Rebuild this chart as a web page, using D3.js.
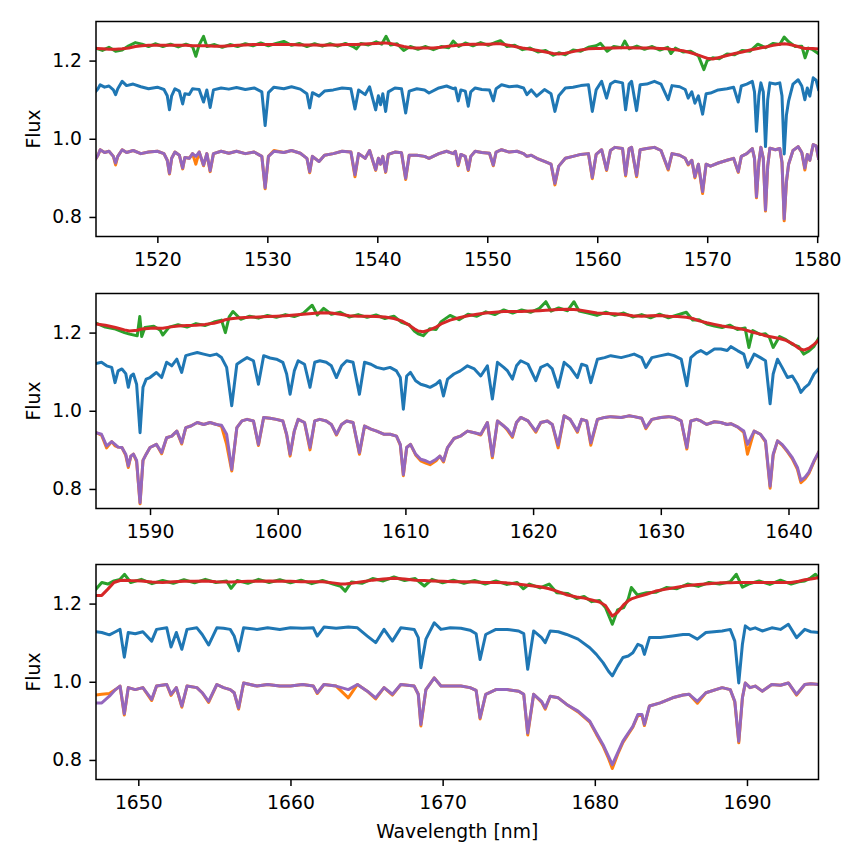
<!DOCTYPE html>
<html>
<head>
<meta charset="utf-8">
<script src="https://cdn.jsdelivr.net/npm/d3@7"></script>
<style>
  html, body { margin: 0; padding: 0; background: #fff; }
  text { font-family: "DejaVu Sans", sans-serif; }
</style>
</head>
<body>
<div id="chart"></div>
<script>
// ---- panel 1 : 1514 - 1580 nm ----
const p1Wave = [1514.42,1514.6,1514.8,1515.2,1515.6,1516.0,1516.2,1516.4,1516.8,1517.2,
  1517.8,1518.5,1519.2,1520.0,1520.6,1520.9,1521.1,1521.3,1521.6,1522.0,
  1522.3,1522.5,1522.9,1523.2,1523.5,1523.8,1524.2,1524.5,1524.8,1525.1,
  1525.8,1526.5,1527.2,1528.0,1528.8,1529.5,1529.8,1530.1,1530.6,1531.5,
  1532.2,1533.0,1533.6,1533.85,1534.1,1534.7,1535.2,1536.0,1536.8,1537.6,
  1537.97,1538.3,1538.9,1539.3,1539.85,1540.1,1540.3,1540.5,1540.76,1541.0,
  1541.6,1542.2,1542.58,1542.9,1543.6,1544.3,1544.7,1545.6,1546.3,1546.9,
  1547.1,1547.36,1547.6,1548.0,1548.27,1548.5,1548.9,1549.5,1550.2,1550.55,
  1550.8,1551.3,1552.0,1552.7,1553.3,1553.6,1554.0,1554.5,1555.2,1555.8,
  1556.15,1556.5,1557.1,1557.8,1558.5,1559.2,1559.55,1559.9,1560.4,1560.85,
  1561.2,1561.6,1562.3,1562.58,1562.9,1563.12,1563.58,1563.9,1564.5,1565.2,
  1565.8,1566.45,1566.8,1567.5,1568.0,1568.27,1568.6,1568.88,1569.2,1569.58,
  1569.9,1570.3,1571.0,1571.8,1572.4,1572.82,1573.1,1573.6,1574.1,1574.3,
  1574.48,1574.7,1574.88,1575.1,1575.3,1575.5,1575.7,1576.2,1576.6,1576.8,
  1577.0,1577.2,1577.4,1577.8,1578.27,1578.6,1578.88,1579.1,1579.33,1579.64,
  1579.9,1580.12];
const p1Blue = [1.122,1.128,1.138,1.132,1.135,1.125,1.113,1.128,1.147,1.136,
  1.140,1.133,1.128,1.132,1.126,1.110,1.074,1.110,1.128,1.122,
  1.089,1.115,1.113,1.128,1.127,1.126,1.094,1.125,1.080,1.125,
  1.130,1.127,1.131,1.126,1.130,1.120,1.034,1.118,1.132,1.128,
  1.133,1.127,1.115,1.079,1.118,1.109,1.122,1.125,1.130,1.128,
  1.076,1.125,1.113,1.133,1.074,1.110,1.087,1.115,1.070,1.120,
  1.130,1.128,1.066,1.122,1.128,1.125,1.117,1.130,1.135,1.128,
  1.130,1.097,1.125,1.122,1.083,1.120,1.130,1.126,1.125,1.097,
  1.128,1.138,1.133,1.135,1.130,1.113,1.125,1.109,1.126,1.115,
  1.070,1.110,1.130,1.132,1.136,1.138,1.070,1.125,1.147,1.104,
  1.140,1.147,1.143,1.074,1.140,1.147,1.072,1.138,1.140,1.147,
  1.140,1.100,1.136,1.133,1.126,1.104,1.120,1.091,1.110,1.063,
  1.115,1.117,1.125,1.128,1.132,1.094,1.135,1.140,1.147,1.120,
  1.019,1.110,1.143,1.120,0.980,1.100,1.143,1.140,1.143,1.110,
  0.961,1.060,1.096,1.140,1.151,1.135,1.100,1.130,1.109,1.156,
  1.150,1.126];
const p1Orange = [0.950,0.958,0.972,0.965,0.968,0.955,0.933,0.955,0.972,0.965,
  0.970,0.962,0.966,0.968,0.962,0.945,0.910,0.950,0.966,0.958,
  0.923,0.952,0.950,0.962,0.935,0.966,0.931,0.962,0.916,0.962,
  0.968,0.963,0.968,0.962,0.966,0.955,0.872,0.955,0.970,0.965,
  0.970,0.963,0.950,0.913,0.955,0.942,0.958,0.962,0.968,0.966,
  0.903,0.962,0.950,0.970,0.919,0.950,0.935,0.955,0.914,0.960,
  0.966,0.964,0.896,0.958,0.958,0.955,0.950,0.962,0.968,0.962,
  0.968,0.931,0.960,0.955,0.919,0.955,0.968,0.965,0.963,0.931,
  0.966,0.972,0.966,0.968,0.962,0.955,0.958,0.950,0.942,0.935,
  0.882,0.930,0.950,0.955,0.960,0.962,0.898,0.960,0.972,0.919,
  0.970,0.978,0.975,0.905,0.975,0.978,0.903,0.972,0.975,0.978,
  0.970,0.920,0.962,0.958,0.950,0.933,0.945,0.900,0.935,0.860,
  0.935,0.930,0.938,0.945,0.950,0.914,0.955,0.962,0.975,0.950,
  0.849,0.940,0.978,0.950,0.815,0.930,0.976,0.972,0.975,0.940,
  0.790,0.888,0.935,0.970,0.980,0.965,0.920,0.960,0.945,0.985,
  0.982,0.950];
const p1Purple = [0.950,0.958,0.972,0.965,0.968,0.955,0.938,0.955,0.972,0.965,
  0.970,0.962,0.966,0.968,0.962,0.945,0.912,0.950,0.966,0.958,
  0.925,0.952,0.950,0.962,0.955,0.966,0.933,0.962,0.918,0.962,
  0.968,0.963,0.968,0.962,0.966,0.955,0.875,0.955,0.968,0.965,
  0.970,0.963,0.950,0.916,0.955,0.942,0.958,0.962,0.968,0.966,
  0.908,0.962,0.950,0.970,0.921,0.950,0.935,0.955,0.916,0.960,
  0.966,0.964,0.899,0.958,0.958,0.955,0.950,0.962,0.968,0.962,
  0.968,0.933,0.960,0.955,0.921,0.955,0.968,0.965,0.963,0.933,
  0.966,0.972,0.966,0.968,0.962,0.955,0.958,0.950,0.942,0.935,
  0.886,0.930,0.950,0.955,0.960,0.962,0.901,0.960,0.972,0.921,
  0.970,0.978,0.975,0.908,0.975,0.978,0.906,0.972,0.975,0.978,
  0.970,0.923,0.962,0.958,0.950,0.935,0.945,0.903,0.935,0.865,
  0.935,0.930,0.938,0.945,0.950,0.916,0.955,0.962,0.975,0.950,
  0.852,0.940,0.978,0.950,0.818,0.930,0.976,0.972,0.975,0.940,
  0.795,0.890,0.935,0.970,0.980,0.965,0.925,0.960,0.945,0.985,
  0.982,0.950];
const p1SmoothWave = [1514.42,1515.0,1515.6,1516.2,1516.8,1517.4,1518.0,1518.6,1519.2,1519.8,
  1520.5,1521.2,1521.9,1522.6,1523.2,1523.5,1523.8,1524.2,1524.5,1525.2,
  1525.9,1526.6,1527.3,1528.0,1528.7,1529.4,1530.1,1530.8,1531.5,1532.2,
  1532.9,1533.6,1534.3,1535.0,1535.7,1536.4,1537.1,1537.8,1538.1,1538.5,
  1539.2,1539.9,1540.4,1540.8,1541.2,1541.8,1542.4,1543.0,1543.7,1544.4,
  1545.1,1545.8,1546.5,1546.9,1547.4,1548.0,1548.7,1549.4,1550.1,1550.8,
  1551.2,1551.8,1552.5,1553.2,1553.9,1554.6,1555.3,1556.0,1556.5,1557.1,
  1557.8,1558.5,1559.2,1559.9,1560.3,1560.9,1561.5,1562.2,1562.5,1562.9,
  1563.6,1564.3,1565.0,1565.7,1566.4,1566.7,1567.1,1567.8,1568.5,1569.2,
  1569.7,1570.0,1570.5,1571.1,1571.8,1572.5,1573.2,1573.9,1574.6,1575.3,
  1576.0,1576.6,1577.0,1577.4,1578.0,1578.6,1578.9,1579.2,1579.6,1580.12];
const p1Green = [1.232,1.226,1.234,1.224,1.227,1.238,1.246,1.242,1.236,1.243,
  1.236,1.242,1.235,1.242,1.236,1.211,1.240,1.262,1.236,1.241,
  1.234,1.241,1.236,1.243,1.238,1.245,1.238,1.244,1.249,1.239,
  1.244,1.236,1.243,1.237,1.243,1.237,1.244,1.236,1.230,1.244,
  1.240,1.248,1.242,1.262,1.240,1.243,1.226,1.236,1.229,1.236,
  1.228,1.236,1.233,1.250,1.236,1.245,1.238,1.246,1.239,1.247,
  1.251,1.236,1.239,1.228,1.232,1.222,1.226,1.214,1.220,1.215,
  1.227,1.224,1.234,1.238,1.244,1.224,1.236,1.233,1.250,1.230,
  1.237,1.229,1.236,1.227,1.234,1.218,1.232,1.222,1.224,1.212,
  1.177,1.200,1.207,1.205,1.217,1.215,1.226,1.224,1.242,1.233,
  1.244,1.241,1.260,1.248,1.236,1.237,1.207,1.232,1.228,1.218];
const p1Red = [1.231,1.230,1.229,1.229,1.230,1.232,1.236,1.238,1.239,1.239,
  1.239,1.239,1.239,1.239,1.238,1.238,1.238,1.238,1.238,1.237,
  1.237,1.238,1.239,1.240,1.241,1.241,1.241,1.241,1.241,1.241,
  1.240,1.240,1.240,1.239,1.240,1.240,1.241,1.241,1.241,1.242,
  1.243,1.244,1.245,1.245,1.244,1.240,1.236,1.233,1.232,1.232,
  1.232,1.234,1.237,1.238,1.240,1.241,1.242,1.242,1.242,1.243,
  1.243,1.240,1.236,1.232,1.229,1.226,1.222,1.218,1.217,1.219,
  1.223,1.227,1.230,1.231,1.231,1.232,1.232,1.233,1.233,1.233,
  1.232,1.232,1.232,1.231,1.230,1.229,1.228,1.225,1.220,1.214,
  1.209,1.206,1.204,1.208,1.213,1.218,1.222,1.227,1.231,1.235,
  1.239,1.242,1.243,1.242,1.238,1.233,1.231,1.231,1.231,1.230];

// ---- panel 2 : 1585 - 1642 nm ----
const p2Wave = [1585.77,1586.2,1586.6,1587.0,1587.26,1587.5,1587.8,1588.1,1588.3,1588.5,
  1588.7,1588.95,1589.22,1589.45,1589.7,1590.0,1590.5,1590.91,1591.3,1591.7,
  1592.1,1592.48,1592.8,1593.2,1593.7,1594.2,1594.7,1595.2,1595.6,1596.0,
  1596.4,1596.8,1597.2,1597.6,1598.1,1598.49,1598.9,1599.4,1599.9,1600.4,
  1600.7,1600.97,1601.3,1601.6,1602.1,1602.53,1602.9,1603.3,1603.8,1604.2,
  1604.6,1605.0,1605.4,1605.9,1606.4,1606.8,1607.3,1607.75,1608.3,1608.8,
  1609.3,1609.6,1609.84,1610.1,1610.4,1610.8,1611.2,1611.6,1611.93,1612.4,
  1612.7,1612.98,1613.3,1613.8,1614.3,1614.86,1615.4,1615.9,1616.42,1616.81,
  1617.21,1617.7,1618.0,1618.38,1618.7,1619.03,1619.6,1620.21,1620.6,1621.12,
  1621.5,1621.96,1622.43,1622.9,1623.47,1623.8,1624.2,1624.52,1625.04,1625.6,
  1626.08,1626.9,1627.5,1627.91,1628.5,1628.83,1629.3,1630.0,1630.6,1631.04,
  1631.6,1632.04,1632.35,1632.8,1633.13,1633.6,1634.2,1634.7,1635.2,1635.48,
  1636.0,1636.5,1636.79,1637.31,1637.8,1638.2,1638.56,1638.8,1639.14,1639.5,
  1639.92,1640.3,1640.7,1640.97,1641.3,1641.6,1642.0,1642.35];
const p2Blue = [1.121,1.124,1.115,1.111,1.072,1.102,1.107,1.095,1.060,1.089,
  1.094,1.068,0.944,1.060,1.081,1.085,1.098,1.085,1.124,1.115,
  1.132,1.098,1.141,1.145,1.149,1.145,1.141,1.145,1.136,1.111,
  1.013,1.119,1.128,1.136,1.128,1.068,1.141,1.135,1.132,1.124,
  1.094,1.042,1.102,1.128,1.119,1.060,1.124,1.128,1.124,1.115,
  1.085,1.115,1.128,1.124,1.042,1.124,1.119,1.111,1.107,1.111,
  1.102,1.085,1.004,1.089,1.098,1.077,1.068,1.064,1.060,1.068,
  1.077,1.038,1.081,1.094,1.102,1.115,1.107,1.089,1.115,1.030,
  1.124,1.111,1.102,1.081,1.115,1.128,1.119,1.077,1.111,1.119,
  1.107,1.060,1.124,1.111,1.085,1.119,1.115,1.072,1.132,1.136,
  1.141,1.136,1.141,1.145,1.136,1.111,1.136,1.141,1.145,1.141,
  1.132,1.064,1.136,1.149,1.154,1.145,1.158,1.158,1.154,1.164,
  1.154,1.145,1.111,1.145,1.136,1.128,1.018,1.094,1.132,1.111,
  1.085,1.089,1.068,1.047,1.060,1.068,1.094,1.107];
const p2Orange = [0.944,0.938,0.905,0.921,0.910,0.907,0.906,0.886,0.855,0.884,
  0.889,0.870,0.762,0.873,0.889,0.906,0.914,0.890,0.931,0.935,
  0.948,0.915,0.957,0.961,0.970,0.965,0.970,0.965,0.960,0.914,
  0.846,0.957,0.974,0.978,0.974,0.911,0.983,0.981,0.978,0.974,
  0.938,0.884,0.948,0.978,0.970,0.900,0.974,0.978,0.974,0.965,
  0.938,0.965,0.974,0.970,0.889,0.961,0.953,0.948,0.940,0.940,
  0.935,0.912,0.834,0.906,0.914,0.887,0.872,0.866,0.862,0.872,
  0.884,0.869,0.906,0.929,0.935,0.948,0.944,0.938,0.970,0.880,
  0.974,0.961,0.950,0.932,0.970,0.983,0.974,0.945,0.970,0.974,
  0.965,0.905,0.987,0.978,0.945,0.978,0.974,0.912,0.978,0.983,
  0.985,0.983,0.987,0.985,0.981,0.954,0.978,0.983,0.985,0.983,
  0.974,0.902,0.974,0.978,0.974,0.965,0.972,0.970,0.965,0.967,
  0.959,0.945,0.889,0.948,0.940,0.920,0.802,0.886,0.923,0.912,
  0.895,0.877,0.850,0.816,0.826,0.840,0.870,0.893];
const p2Purple = [0.944,0.940,0.910,0.921,0.914,0.907,0.906,0.889,0.859,0.884,
  0.889,0.873,0.765,0.873,0.889,0.906,0.914,0.893,0.931,0.935,
  0.948,0.918,0.957,0.961,0.970,0.965,0.970,0.965,0.963,0.940,
  0.850,0.957,0.974,0.978,0.974,0.914,0.983,0.981,0.978,0.974,
  0.940,0.889,0.948,0.978,0.970,0.906,0.974,0.978,0.974,0.965,
  0.940,0.965,0.974,0.970,0.893,0.961,0.953,0.948,0.940,0.940,
  0.935,0.914,0.837,0.906,0.914,0.889,0.876,0.872,0.867,0.876,
  0.884,0.872,0.906,0.929,0.935,0.948,0.944,0.940,0.970,0.884,
  0.974,0.961,0.953,0.935,0.970,0.983,0.974,0.948,0.970,0.974,
  0.965,0.912,0.987,0.978,0.948,0.978,0.974,0.918,0.978,0.983,
  0.985,0.983,0.987,0.985,0.981,0.957,0.978,0.983,0.985,0.983,
  0.974,0.906,0.974,0.978,0.974,0.965,0.972,0.970,0.965,0.967,
  0.959,0.948,0.914,0.948,0.940,0.923,0.807,0.889,0.923,0.914,
  0.897,0.880,0.855,0.822,0.830,0.843,0.872,0.893];
const p2SmoothWave = [1585.77,1586.5,1587.3,1588.0,1588.4,1589.0,1589.2,1589.35,1589.6,1590.3,
  1590.8,1591.0,1591.5,1592.2,1592.9,1593.6,1594.3,1595.0,1595.6,1595.9,
  1596.2,1596.5,1597.1,1597.8,1598.5,1599.2,1599.9,1600.6,1601.3,1602.0,
  1602.7,1603.1,1603.6,1604.2,1604.9,1605.6,1606.3,1607.0,1607.7,1608.4,
  1609.1,1609.7,1610.3,1610.7,1611.0,1611.4,1611.9,1612.4,1612.8,1613.5,
  1614.2,1614.9,1615.6,1616.3,1617.0,1617.7,1618.4,1619.1,1619.8,1620.5,
  1621.0,1621.4,1622.0,1622.7,1623.2,1623.6,1624.3,1625.0,1625.7,1626.4,
  1627.1,1627.8,1628.5,1629.2,1629.9,1630.6,1631.3,1632.0,1632.5,1633.0,
  1633.6,1634.2,1634.8,1635.4,1636.0,1636.6,1636.9,1637.2,1637.8,1638.2,
  1638.5,1638.8,1639.3,1639.8,1640.3,1640.8,1641.2,1641.6,1642.0,1642.35];
const p2Green = [1.224,1.214,1.209,1.200,1.196,1.192,1.241,1.190,1.213,1.216,
  1.206,1.194,1.214,1.220,1.214,1.223,1.218,1.227,1.232,1.200,
  1.240,1.254,1.234,1.242,1.237,1.244,1.239,1.246,1.241,1.249,
  1.270,1.245,1.262,1.247,1.252,1.240,1.246,1.239,1.245,1.236,
  1.242,1.226,1.220,1.204,1.197,1.192,1.210,1.208,1.228,1.244,
  1.233,1.247,1.242,1.253,1.246,1.258,1.250,1.258,1.252,1.262,
  1.279,1.255,1.263,1.256,1.279,1.255,1.250,1.244,1.252,1.244,
  1.250,1.240,1.246,1.238,1.247,1.238,1.245,1.252,1.232,1.233,
  1.222,1.217,1.213,1.219,1.208,1.212,1.162,1.205,1.195,1.197,
  1.188,1.162,1.190,1.182,1.170,1.164,1.145,1.153,1.165,1.185];
const p2Red = [1.222,1.219,1.213,1.207,1.204,1.206,1.208,1.209,1.210,1.212,
  1.211,1.211,1.214,1.217,1.218,1.219,1.221,1.224,1.229,1.233,
  1.235,1.236,1.238,1.239,1.240,1.241,1.242,1.243,1.245,1.247,
  1.249,1.250,1.251,1.250,1.247,1.243,1.242,1.242,1.241,1.240,
  1.236,1.230,1.219,1.210,1.204,1.202,1.207,1.214,1.222,1.232,
  1.238,1.243,1.247,1.250,1.252,1.254,1.254,1.254,1.255,1.256,
  1.257,1.258,1.259,1.260,1.259,1.258,1.254,1.250,1.249,1.248,
  1.246,1.243,1.242,1.243,1.244,1.242,1.241,1.239,1.236,1.230,
  1.225,1.221,1.217,1.214,1.211,1.207,1.204,1.201,1.196,1.192,
  1.190,1.188,1.185,1.180,1.172,1.160,1.155,1.160,1.170,1.180];

// ---- panel 3 : 1647 - 1695 nm ----
const p3Wave = [1647.22,1647.6,1648.1,1648.5,1648.8,1649.08,1649.34,1649.8,1650.3,1650.88,
  1651.2,1651.87,1652.15,1652.5,1652.86,1653.2,1653.85,1654.2,1654.62,1655.16,
  1655.6,1656.04,1656.3,1656.59,1656.92,1657.8,1658.5,1659.3,1660.0,1660.8,
  1661.5,1661.76,1662.2,1663.0,1663.8,1664.4,1665.05,1665.6,1666.15,1666.7,
  1667.25,1668.13,1668.4,1668.57,1668.9,1669.45,1669.89,1670.5,1671.2,1671.8,
  1672.2,1672.46,1672.83,1673.5,1674.24,1675.0,1675.33,1675.59,1675.98,1676.5,
  1676.74,1677.07,1677.6,1678.15,1678.9,1679.67,1680.1,1680.54,1680.9,1681.15,
  1681.5,1681.85,1682.2,1682.5,1682.83,1683.1,1683.26,1683.59,1684.3,1685.11,
  1685.8,1686.2,1686.74,1687.3,1688.37,1688.9,1689.2,1689.46,1689.7,1689.89,
  1690.2,1690.54,1691.0,1691.63,1692.2,1692.72,1693.26,1693.8,1694.2,1694.7];
const p3Blue = [1.128,1.126,1.120,1.128,1.134,1.063,1.126,1.123,1.128,1.104,
  1.134,1.138,1.089,1.126,1.083,1.134,1.138,1.121,1.094,1.138,
  1.137,1.134,1.117,1.079,1.138,1.134,1.138,1.134,1.138,1.137,
  1.138,1.117,1.140,1.137,1.140,1.138,1.117,1.100,1.134,1.104,
  1.138,1.134,1.113,1.036,1.109,1.151,1.134,1.138,1.137,1.132,
  1.123,1.057,1.121,1.134,1.134,1.130,1.123,1.032,1.130,1.113,
  1.100,1.130,1.128,1.121,1.109,1.087,1.070,1.049,1.027,1.015,
  1.040,1.062,1.066,1.074,1.096,1.091,1.070,1.113,1.113,1.117,
  1.121,1.121,1.109,1.126,1.130,1.134,1.104,0.997,1.096,1.143,
  1.134,1.138,1.130,1.138,1.134,1.147,1.113,1.134,1.128,1.126];
const p3Orange = [0.966,0.968,0.970,0.980,0.989,0.915,0.985,0.980,0.985,0.952,
  0.989,0.993,0.965,0.985,0.935,0.989,0.985,0.972,0.947,0.993,
  0.985,0.980,0.972,0.930,0.997,0.989,0.993,0.989,0.989,0.993,
  0.989,0.970,0.993,0.989,0.959,0.993,0.976,0.956,0.985,0.966,
  0.993,0.989,0.968,0.887,0.980,1.010,0.989,0.989,0.989,0.985,
  0.978,0.905,0.968,0.980,0.980,0.976,0.968,0.864,0.968,0.948,
  0.930,0.963,0.959,0.942,0.923,0.897,0.866,0.836,0.804,0.778,
  0.814,0.845,0.866,0.884,0.914,0.914,0.888,0.938,0.946,0.959,
  0.966,0.968,0.945,0.972,0.985,0.980,0.948,0.844,0.959,0.997,
  0.985,0.989,0.976,0.993,0.991,0.997,0.966,0.993,0.995,0.993];
const p3Purple = [0.946,0.946,0.963,0.980,0.989,0.918,0.985,0.980,0.985,0.955,
  0.989,0.993,0.968,0.985,0.938,0.989,0.985,0.972,0.950,0.993,
  0.985,0.980,0.972,0.933,0.997,0.989,0.993,0.989,0.989,0.993,
  0.989,0.972,0.993,0.989,0.980,0.993,0.976,0.959,0.985,0.968,
  0.993,0.989,0.968,0.891,0.980,1.010,0.989,0.989,0.989,0.985,
  0.978,0.908,0.968,0.980,0.980,0.976,0.968,0.869,0.968,0.950,
  0.933,0.963,0.959,0.942,0.925,0.899,0.869,0.839,0.809,0.788,
  0.818,0.848,0.869,0.886,0.916,0.916,0.891,0.938,0.946,0.959,
  0.966,0.968,0.950,0.972,0.985,0.980,0.950,0.848,0.959,0.997,
  0.985,0.989,0.976,0.993,0.991,0.997,0.968,0.993,0.995,0.993];
const p3SmoothWave = [1647.22,1647.6,1648.0,1648.4,1648.8,1649.1,1649.5,1650.2,1650.9,1651.6,
  1652.3,1653.0,1653.7,1654.4,1655.1,1655.8,1656.1,1656.5,1657.2,1657.9,
  1658.6,1659.3,1660.0,1660.7,1661.4,1662.1,1662.8,1663.3,1663.6,1664.0,
  1664.7,1665.4,1666.1,1666.8,1667.5,1668.2,1668.8,1669.3,1670.0,1670.7,
  1671.4,1672.1,1672.8,1673.5,1674.2,1674.9,1675.3,1675.7,1676.4,1677.0,
  1677.5,1678.2,1678.8,1679.3,1679.8,1680.3,1680.7,1681.15,1681.5,1681.9,
  1682.2,1682.4,1682.8,1683.4,1684.0,1684.7,1685.4,1686.1,1686.8,1687.5,
  1688.2,1688.9,1689.3,1689.7,1690.1,1690.8,1691.5,1692.2,1692.9,1693.4,
  1693.8,1694.2,1694.5,1694.7];
const p3Green = [1.237,1.254,1.250,1.258,1.262,1.275,1.254,1.262,1.251,1.259,
  1.252,1.261,1.253,1.262,1.254,1.258,1.239,1.259,1.252,1.262,
  1.254,1.261,1.253,1.260,1.251,1.259,1.250,1.244,1.232,1.255,
  1.252,1.264,1.258,1.268,1.259,1.264,1.245,1.262,1.253,1.260,
  1.252,1.259,1.250,1.258,1.249,1.254,1.238,1.250,1.240,1.250,
  1.228,1.226,1.213,1.218,1.205,1.208,1.190,1.147,1.184,1.190,
  1.212,1.241,1.222,1.228,1.229,1.241,1.238,1.250,1.244,1.254,
  1.250,1.256,1.275,1.242,1.250,1.258,1.249,1.260,1.250,1.256,
  1.258,1.266,1.275,1.265];
const p3Red = [1.221,1.221,1.237,1.254,1.259,1.260,1.259,1.258,1.255,1.254,
  1.256,1.257,1.257,1.258,1.256,1.255,1.255,1.256,1.257,1.257,
  1.258,1.257,1.257,1.256,1.256,1.256,1.253,1.250,1.250,1.252,
  1.256,1.260,1.263,1.265,1.263,1.260,1.259,1.258,1.257,1.256,
  1.256,1.255,1.254,1.254,1.253,1.250,1.248,1.246,1.243,1.238,
  1.232,1.222,1.217,1.214,1.209,1.204,1.195,1.168,1.178,1.197,
  1.207,1.212,1.217,1.224,1.232,1.237,1.242,1.246,1.249,1.251,
  1.253,1.253,1.254,1.254,1.254,1.254,1.254,1.254,1.254,1.257,
  1.261,1.263,1.265,1.267];

// axis ranges and ticks
const p1Range = [1514.42, 1580.12];
const p2Range = [1585.77, 1642.35];
const p3Range = [1647.22, 1694.70];
const p1Ticks = [1520, 1530, 1540, 1550, 1560, 1570, 1580];
const p2Ticks = [1590, 1600, 1610, 1620, 1630, 1640];
const p3Ticks = [1650, 1660, 1670, 1680, 1690];
const fluxRange = [0.75, 1.30];
const fluxTicks = [0.8, 1.0, 1.2];

const width = 864;
const height = 864;
const left = 96;
const right = 818.5;
const panelHeight = 215;
const fontSize = 18.75;

const panels = [
  { wave: p1Wave, blue: p1Blue, orange: p1Orange, purple: p1Purple,
    sWave: p1SmoothWave, green: p1Green, red: p1Red,
    range: p1Range, ticks: p1Ticks, top: 21.5 },
  { wave: p2Wave, blue: p2Blue, orange: p2Orange, purple: p2Purple,
    sWave: p2SmoothWave, green: p2Green, red: p2Red,
    range: p2Range, ticks: p2Ticks, top: 293.5 },
  { wave: p3Wave, blue: p3Blue, orange: p3Orange, purple: p3Purple,
    sWave: p3SmoothWave, green: p3Green, red: p3Red,
    range: p3Range, ticks: p3Ticks, top: 564.5 }
];

const svg = d3.select("#chart").append("svg")
  .attr("width", width)
  .attr("height", height)
  .attr("viewBox", [0, 0, width, height]);

svg.append("rect").attr("width", width).attr("height", height).attr("fill", "#fff");

panels.forEach((p, i) => {
  const x = d3.scaleLinear().domain(p.range).range([left, right]);
  const y = d3.scaleLinear().domain(fluxRange).range([p.top + panelHeight, p.top]);

  const clipId = "clip" + i;
  svg.append("clipPath").attr("id", clipId)
    .append("rect")
    .attr("x", left).attr("y", p.top)
    .attr("width", right - left).attr("height", panelHeight);

  const line = d3.line().x(d => x(d[0])).y(d => y(d[1]));
  const g = svg.append("g").attr("clip-path", `url(#${clipId})`);

  // same drawing order as the original: C0..C4
  const series = [
    [p.wave, p.blue, "#1f77b4"],
    [p.wave, p.orange, "#ff7f0e"],
    [p.sWave, p.green, "#2ca02c"],
    [p.sWave, p.red, "#d62728"],
    [p.wave, p.purple, "#9467bd"]
  ];
  series.forEach(([w, f, color]) => {
    g.append("path")
      .datum(d3.zip(w, f))
      .attr("d", line)
      .attr("fill", "none")
      .attr("stroke", color)
      .attr("stroke-width", 3)
      .attr("stroke-linejoin", "round")
      .attr("stroke-linecap", "square");
  });

  // axes
  const xAxis = svg.append("g")
    .attr("transform", `translate(0,${p.top + panelHeight})`)
    .call(d3.axisBottom(x).tickValues(p.ticks).tickFormat(d3.format("d"))
      .tickSize(6.6).tickPadding(10));
  const yAxis = svg.append("g")
    .attr("transform", `translate(${left},0)`)
    .call(d3.axisLeft(y).tickValues(fluxTicks).tickFormat(d3.format(".1f"))
      .tickSize(6.6).tickPadding(7.4));

  [xAxis, yAxis].forEach(ax => {
    ax.select(".domain").remove();
    ax.selectAll(".tick line").attr("stroke", "#000").attr("stroke-width", 1.5);
    ax.selectAll(".tick text")
      .attr("fill", "#000")
      .style("font-family", "'DejaVu Sans', sans-serif")
      .style("font-size", fontSize + "px");
  });

  svg.append("rect")
    .attr("x", left).attr("y", p.top)
    .attr("width", right - left).attr("height", panelHeight)
    .attr("fill", "none")
    .attr("stroke", "#000")
    .attr("stroke-width", 1.5);

  svg.append("text")
    .attr("transform", `translate(40,${p.top + panelHeight / 2}) rotate(-90)`)
    .attr("text-anchor", "middle")
    .style("font-size", fontSize + "px")
    .attr("fill", "#000")
    .text("Flux");
});

svg.append("text")
  .attr("x", (left + right) / 2)
  .attr("y", 838)
  .attr("text-anchor", "middle")
  .style("font-size", fontSize + "px")
  .attr("fill", "#000")
  .text("Wavelength [nm]");
</script>
</body>
</html>
